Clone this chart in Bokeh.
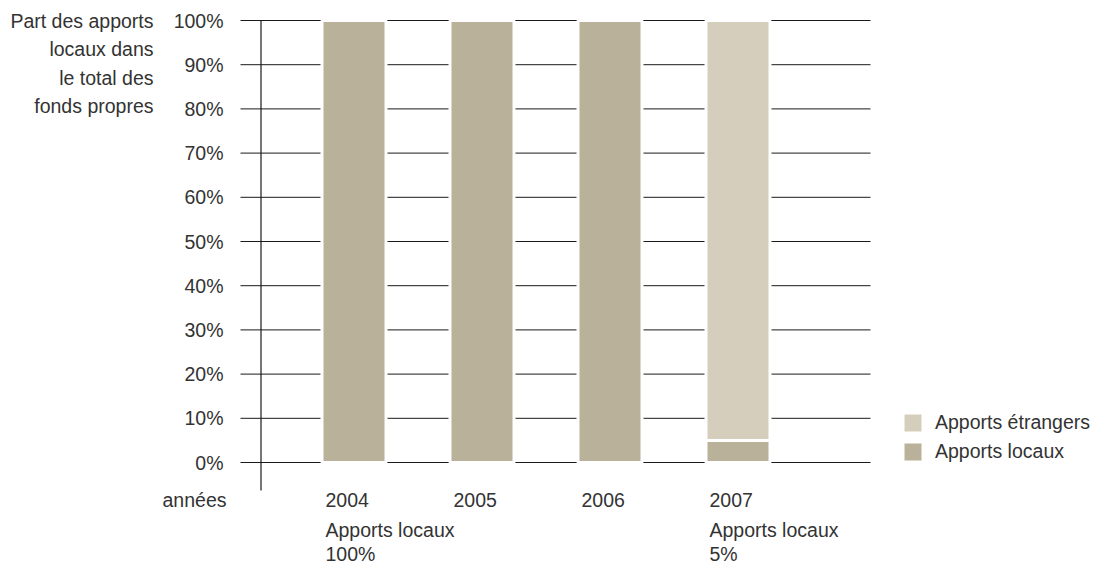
from bokeh.plotting import figure
from bokeh.models import Range1d, ColumnDataSource, Legend, LegendItem
from bokeh.core.properties import value
from bokeh.embed import file_html
from bokeh.resources import INLINE

# ---- data ----
years = ["2004", "2005", "2006", "2007"]
local_share = [100, 100, 100, 5]
foreign_share = [0, 0, 0, 95]
y_ticks = [0, 10, 20, 30, 40, 50, 60, 70, 80, 90, 100]
y_tick_labels = [f"{t}%" for t in y_ticks]
title_lines = ["Part des apports", "locaux dans", "le total des", "fonds propres"]
x_label = "années"
note_years = ["2004", "2007"]
note_label = "Apports locaux"
note_values = ["100%", "5%"]
legend_local = "Apports locaux"
legend_foreign = "Apports étrangers"

# ---- layout helpers (figure pixels -> data units) ----
W, H = 1096, 567
PXU = 128.0     # px per category
PYU = 4.42      # px per percent
X0 = 353.5      # px of first category centre
Y0 = 462.0      # px of 0%


def X(fx):
    return (fx - X0) / PXU


def Y(fy):
    return (Y0 - fy) / PYU


FONT = value("Liberation Sans")
FS = "19.5px"
TXT = "#333333"
C_LOCAL = "#B9B19A"
C_FOREIGN = "#D5CEBC"

p = figure(width=W, height=H, x_range=Range1d(X(0), X(W)), y_range=Range1d(Y(H), Y(0)),
           output_backend="svg", toolbar_location=None, min_border=0,
           x_axis_location=None, y_axis_location=None)
p.grid.visible = False
p.outline_line_color = None
p.background_fill_color = "white"

# gridlines
p.segment(x0=X(240), x1=X(870), y0=y_ticks, y1=y_ticks, line_color="#1a1a1a", line_width=1)
# vertical axis line
p.segment(x0=[X(260.5)], x1=[X(260.5)], y0=[100], y1=[Y(490)], line_color="#1a1a1a", line_width=1.2)

xs = list(range(len(years)))
src = ColumnDataSource(dict(x=xs, local=local_share, foreign=foreign_share))
rs = p.vbar_stack(["local", "foreign"], x="x", width=64 / PXU, source=src,
                  fill_color=[C_LOCAL, C_FOREIGN], line_color="white", line_width=3)

# y tick labels
p.text(x=[X(223)] * len(y_ticks), y=y_ticks, text=y_tick_labels, text_align="right",
       text_baseline="middle", text_font=FONT, text_font_size=FS, text_color=TXT)

# title
p.text(x=[X(153)] * len(title_lines), y=[Y(20.5 + 28.3 * i) for i in range(len(title_lines))],
       text=title_lines, text_align="right", text_baseline="middle",
       text_font=FONT, text_font_size=FS, text_color=TXT)

# x label
p.text(x=[X(226)], y=[Y(499)], text=[x_label], text_align="right", text_baseline="middle",
       text_font=FONT, text_font_size=FS, text_color=TXT)

# year labels
p.text(x=[v - 28.5 / PXU for v in xs], y=[Y(499)] * len(xs), text=years, text_align="left",
       text_baseline="middle", text_font=FONT, text_font_size=FS, text_color=TXT)

# notes
nx = [years.index(y) - 28.5 / PXU for y in note_years]
p.text(x=nx, y=[Y(529.5)] * len(nx), text=[note_label] * len(nx), text_align="left",
       text_baseline="middle", text_font=FONT, text_font_size=FS, text_color=TXT)
p.text(x=nx, y=[Y(553.5)] * len(nx), text=note_values, text_align="left",
       text_baseline="middle", text_font=FONT, text_font_size=FS, text_color=TXT)

legend = Legend(items=[LegendItem(label=legend_foreign, renderers=[rs[1]]),
                       LegendItem(label=legend_local, renderers=[rs[0]])],
                location=(900, 103.5), glyph_width=25, glyph_height=25, label_standoff=10,
                spacing=4, padding=0, margin=0, border_line_color=None,
                background_fill_alpha=0, label_text_font="Liberation Sans",
                label_text_font_size=FS, label_text_color=TXT, label_height=20)
p.add_layout(legend)

open("out.html", "w").write(file_html(p, INLINE))
